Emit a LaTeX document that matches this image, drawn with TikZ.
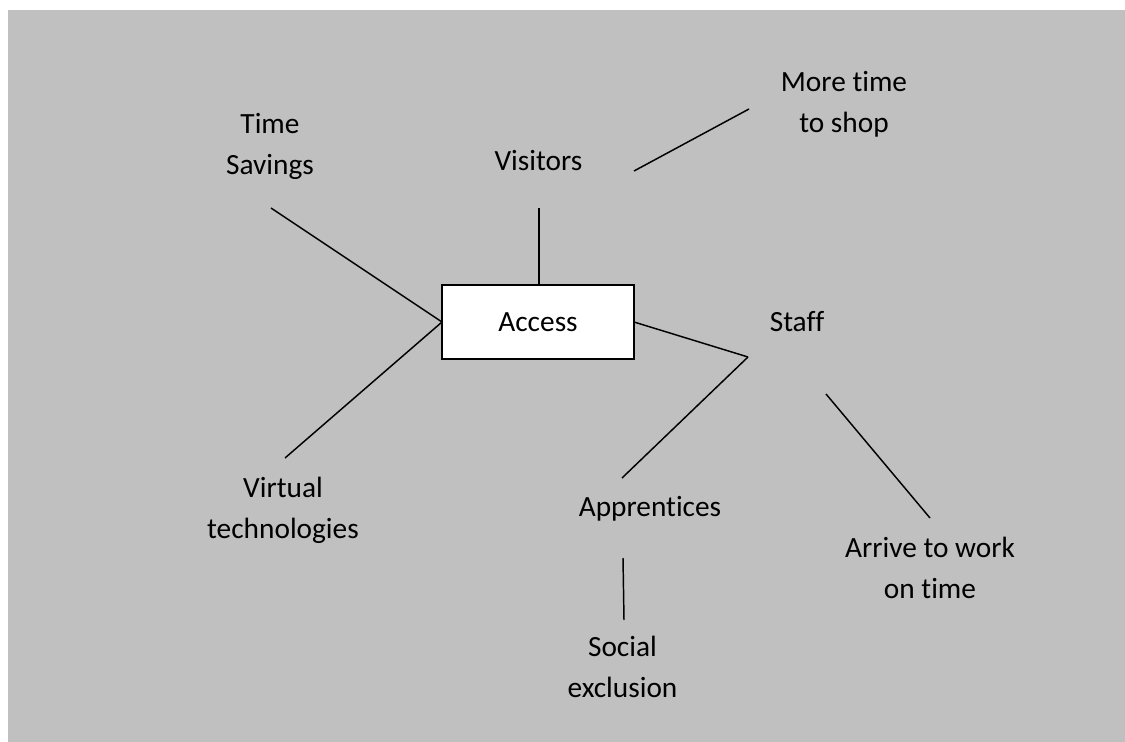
\documentclass[tikz,border=0pt]{standalone}
\usepackage{fontspec}
\setmainfont[Ligatures=NoCommon]{Carlito}
\definecolor{bggrey}{RGB}{192,192,192}
\begin{document}
\begin{tikzpicture}[x=0.75pt,y=-0.75pt,
  lbl/.style={font=\fontsize{22}{30.75}\selectfont, align=center, inner sep=0pt},
  conn/.style={line width=1.1pt, black},
  boxnode/.style={draw, line width=1.3pt, fill=white, minimum width=144pt, minimum height=55.5pt, inner sep=0pt, font=\fontsize{22}{30.75}\selectfont}]
\useasboundingbox (0,0) rectangle (1125,742);
\fill[bggrey] (8,10) rectangle (1125,742);
% nodes
\node[boxnode] (access) at (538,322) {Access};
\node[lbl] (time) at (270,146) {Time\\Savings};
\node[lbl] (visitors) at (538.5,161) {Visitors};
\node[lbl] (more) at (844,104) {More time\\to shop};
\node[lbl] (staff) at (797,322) {Staff};
\node[lbl] (virtual) at (283,510) {Virtual\\technologies};
\node[lbl] (appr) at (650,509) {Apprentices};
\node[lbl] (arrive) at (930,567.5) {Arrive to work\\on time};
\node[lbl] (social) at (622.5,667) {Social\\exclusion};
% connector end points
\coordinate (accL) at (442,322);
\coordinate (accR) at (634,322);
\coordinate (accT) at (539,285);
\coordinate (tsE) at (271,208);
\coordinate (viE) at (285,458);
\coordinate (visB) at (539,208);
\coordinate (visR) at (634,171);
\coordinate (moreL) at (749,109);
\coordinate (stL) at (748,357);
\coordinate (apT) at (622,478);
\coordinate (stB) at (826,394);
\coordinate (arT) at (930,518);
\coordinate (apB) at (623,558);
\coordinate (soT) at (624,620);
% connectors
\draw[conn] (tsE) -- (accL);
\draw[conn] (viE) -- (accL);
\draw[conn] (visB) -- (accT);
\draw[conn] (visR) -- (moreL);
\draw[conn] (accR) -- (stL);
\draw[conn] (stL) -- (apT);
\draw[conn] (stB) -- (arT);
\draw[conn] (apB) -- (soT);
\end{tikzpicture}
\end{document}
